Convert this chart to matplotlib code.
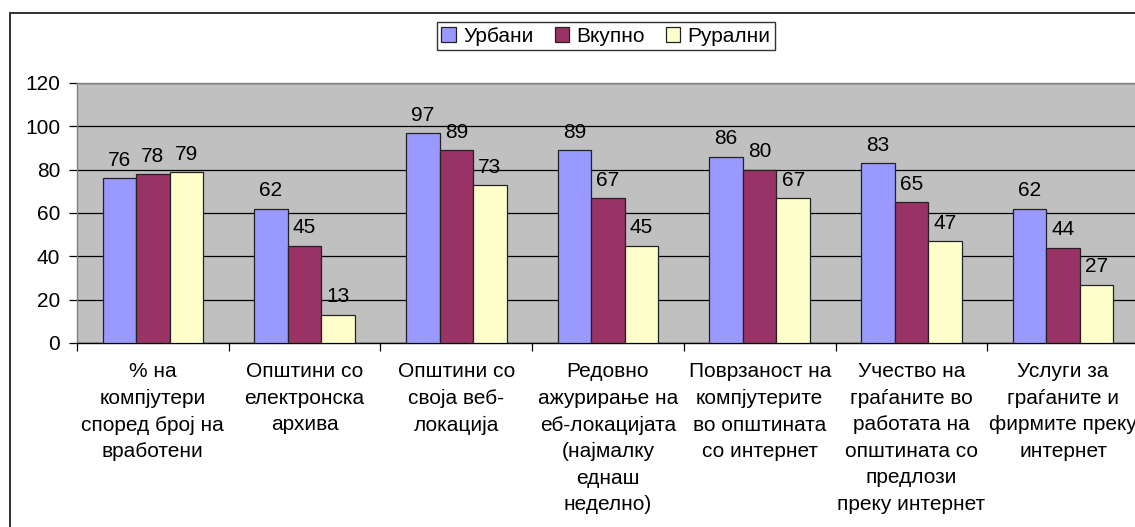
import matplotlib
matplotlib.use("Agg")
import matplotlib.pyplot as plt
from matplotlib.patches import Rectangle
import numpy as np

plt.rcParams['font.family'] = ['Liberation Sans', 'DejaVu Sans']

categories = [
    "% на\nкомпјутери\nспоред број на\nвработени",
    "Општини со\nелектронска\nархива",
    "Општини со\nсвоја веб-\nлокација",
    "Редовно\nажурирање на\nеб-локацијата\n(најмалку\nеднаш\nнеделно)",
    "Поврзаност на\nкомпјутерите\nво општината\nсо интернет",
    "Учество на\nграѓаните во\nработата на\nопштината со\nпредлози\nпреку интернет",
    "Услуги за\nграѓаните и\nфирмите преку\nинтернет",
]
series_names = ["Урбани", "Вкупно", "Рурални"]
urbani = [76, 62, 97, 89, 86, 83, 62]
vkupno = [78, 45, 89, 67, 80, 65, 44]
ruralni = [79, 13, 73, 45, 67, 47, 27]
yticks = [0, 20, 40, 60, 80, 100, 120]

colors = ["#9999FF", "#993366", "#FFFFCC"]
FS = 15

W, H = 1135, 527
fig = plt.figure(figsize=(W / 100, H / 100), dpi=100)
fig.patch.set_facecolor("white")

# outer chart border
fig.patches.append(Rectangle((10 / W, -0.1), 1.2, 1 - 13 / H + 0.1,
                             transform=fig.transFigure, fill=False,
                             edgecolor="#222222", linewidth=1.3))

left, right, top, bottom = 77, 1139, 83, 343
ax = fig.add_axes([left / W, 1 - bottom / H, (right - left) / W, (bottom - top) / H])
ax.set_facecolor("#C0C0C0")

x = np.arange(len(categories))
bw = 0.221
for i, (vals, name, c) in enumerate(zip([urbani, vkupno, ruralni], series_names, colors)):
    bars = ax.bar(x + (i - 1) * bw, vals, bw, color=c, edgecolor="#222222",
                  linewidth=0.9, label=name, zorder=3)
    ax.bar_label(bars, labels=[str(v) for v in vals], padding=6, fontsize=FS,
                 color="black")

ax.set_xlim(-0.5, len(categories) - 0.5)
ax.set_ylim(0, 120)
ax.set_yticks(yticks)
ax.set_yticklabels([str(t) for t in yticks], fontsize=FS)
ax.yaxis.grid(True, color="black", linewidth=0.9, zorder=0)
ax.set_axisbelow(True)
ax.tick_params(axis="y", length=6, width=0.9, pad=6, colors="black")

# category boundaries as ticks, labels at centres
ax.set_xticks(np.arange(len(categories) + 1) - 0.5)
ax.set_xticklabels([])
ax.set_xticks(x, minor=True)
ax.set_xticklabels(categories, minor=True, fontsize=FS, linespacing=1.5,
                   va="top", ha="center")
ax.tick_params(axis="x", which="major", length=6, width=0.9)
ax.tick_params(axis="x", which="minor", length=0, pad=14)

for s in ["top", "right", "left"]:
    ax.spines[s].set_color("#808080")
    ax.spines[s].set_linewidth(1.0)
ax.spines["bottom"].set_color("black")
ax.spines["bottom"].set_linewidth(1.0)

leg = fig.legend(loc="center", bbox_to_anchor=(606 / W, 1 - 36 / H), ncol=3,
                 fontsize=FS, frameon=True, fancybox=False, edgecolor="black",
                 handlelength=0.7, handleheight=0.7, handletextpad=0.35,
                 columnspacing=1.0, borderpad=0.22, borderaxespad=0)
leg.get_frame().set_linewidth(1.0)

fig.savefig("out.png", dpi=100)
